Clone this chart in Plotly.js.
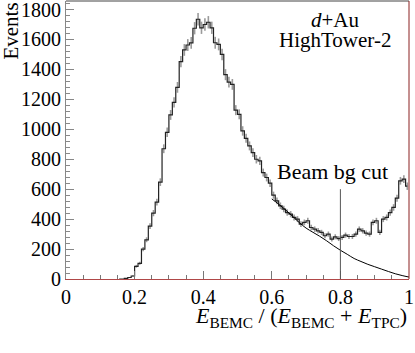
<!DOCTYPE html>
<html>
<head>
<meta charset="utf-8">
<script src="https://cdn.plot.ly/plotly-3.0.1.min.js"></script>
<style>
  html, body { margin: 0; padding: 0; background: #fff; }
  #chart { width: 415px; height: 353px; }
</style>
</head>
<body>
<div id="chart"></div>
<script>
// histogram: bins of 0.01 starting at binStart
const binStart = 0.15;
const binWidth = 0.01;
const counts = [
  0, 0, 4, 10, 20, 85, 105, 200, 262, 353,
  440, 513, 647, 870, 980, 1096, 1180, 1280, 1452, 1530,
  1563, 1577, 1675, 1735, 1678, 1700, 1715, 1678, 1578, 1567,
  1500, 1365, 1315, 1300, 1128, 1100, 989, 940, 889, 844,
  800, 789, 711, 678, 640, 560, 522, 489, 467, 444,
  433, 411, 400, 367, 378, 389, 344, 333, 322, 311,
  289, 300, 267, 282, 270, 278, 293, 284, 284, 300,
  333, 322, 307, 300, 378, 389, 311, 400, 411, 444,
  478, 540, 656, 667, 620
];

// background fit curve
const fitX = [0.60, 0.62, 0.64, 0.66, 0.68, 0.70, 0.72, 0.74, 0.76, 0.78,
              0.80, 0.82, 0.84, 0.86, 0.88, 0.90, 0.92, 0.94, 0.96, 0.98, 1.00];
const fitY = [535, 500, 462, 420, 377, 340, 312, 285, 255, 222,
              192, 165, 137, 117, 98, 82, 66, 50, 35, 23, 13];

const cutValue = 0.8;
const cutTop = 600;

const binCenters = counts.map((c, i) => +(binStart + binWidth * (i + 0.5)).toFixed(3));

// family names need the quotes here, otherwise it falls back to sans
const serif = "'Liberation Serif', 'Times New Roman', Times, serif";

const traces = [
  {
    x: binCenters,
    y: counts,
    mode: "markers",
    marker: { size: 0, opacity: 0 },
    error_y: { type: "sqrt", color: "#9a9a9a", thickness: 1.6, width: 0 },
    hoverinfo: "skip",
    showlegend: false
  },
  {
    x: binCenters,
    y: counts,
    mode: "lines",
    line: { color: "#222", width: 1.2, shape: "hvh" },
    showlegend: false
  },
  {
    x: fitX,
    y: fitY,
    mode: "lines",
    line: { color: "#000", width: 1, shape: "spline" },
    showlegend: false
  }
];

const layout = {
  width: 415,
  height: 353,
  margin: { l: 66, r: 6, t: 1, b: 74 },
  paper_bgcolor: "#fff",
  plot_bgcolor: "#fff",
  showlegend: false,
  font: { family: serif, size: 20, color: "#000" },
  xaxis: {
    range: [0, 1],
    dtick: 0.2,
    ticks: "inside",
    ticklen: 8,
    tickcolor: "#777",
    tickwidth: 1,
    minor: { dtick: 0.05, ticks: "inside", ticklen: 4, tickcolor: "#777" },
    showgrid: false,
    zeroline: false,
    showline: true,
    linecolor: "#b04848",
    linewidth: 1,
    ticklabeloverflow: "allow",
    tickfont: { family: serif, size: 20, color: "#000" }
  },
  yaxis: {
    range: [0, 1857],
    dtick: 200,
    ticks: "inside",
    ticklen: 8,
    tickcolor: "#888",
    tickwidth: 1,
    minor: { dtick: 40, ticks: "inside", ticklen: 4, tickcolor: "#888" },
    showgrid: false,
    zeroline: false,
    showline: true,
    linecolor: "#888",
    linewidth: 1,
    ticklabeloverflow: "allow",
    tickfont: { family: serif, size: 20, color: "#000" }
  },
  shapes: [
    { type: "line", xref: "x", yref: "y", x0: cutValue, x1: cutValue, y0: 0, y1: cutTop,
      line: { color: "#555", width: 1 } },
    { type: "line", xref: "paper", yref: "paper", x0: 0, x1: 1, y0: 1, y1: 1,
      line: { color: "#444", width: 1 } },
    { type: "line", xref: "paper", yref: "paper", x0: 1, x1: 1, y0: 0, y1: 1,
      line: { color: "#8b2020", width: 1 } }
  ],
  annotations: [
    { text: "Beam bg cut", xref: "x", yref: "y", x: 0.778, y: 720, showarrow: false,
      font: { family: serif, size: 22 }, xanchor: "center", yanchor: "middle" },
    { text: "<i>d</i>+Au", xref: "paper", yref: "paper", x: 0.785, y: 0.93, showarrow: false,
      font: { family: serif, size: 21 }, xanchor: "center", yanchor: "middle" },
    { text: "HighTower-2", xref: "paper", yref: "paper", x: 0.785, y: 0.86, showarrow: false,
      font: { family: serif, size: 21 }, xanchor: "center", yanchor: "middle" },
    { text: "Events", xref: "paper", yref: "paper", x: -0.163, y: 1.0, showarrow: false,
      textangle: -90, font: { family: serif, size: 21 }, xanchor: "center", yanchor: "top" },
    { text: "<i>E</i><sub>BEMC</sub> / (<i>E</i><sub>BEMC</sub> + <i>E</i><sub>TPC</sub>)",
      xref: "paper", yref: "paper", x: 1.0, y: -0.135, showarrow: false,
      font: { family: serif, size: 22 }, xanchor: "right", yanchor: "middle" }
  ]
};

Plotly.newPlot("chart", traces, layout, { staticPlot: true, displayModeBar: false });
</script>
</body>
</html>
